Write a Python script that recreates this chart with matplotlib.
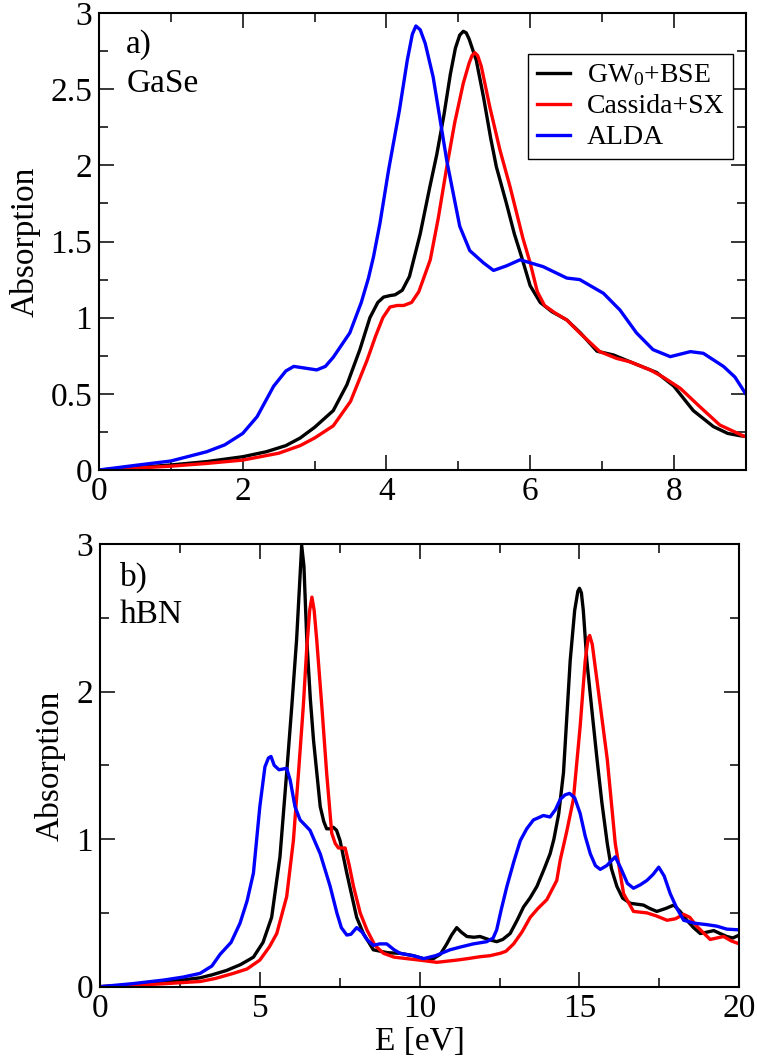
import numpy as np
import matplotlib
matplotlib.use('Agg')
import matplotlib.pyplot as plt
from matplotlib.ticker import MultipleLocator, FormatStrFormatter

plt.rcParams['font.family'] = ['Liberation Serif', 'DejaVu Serif']
plt.rcParams['mathtext.fontset'] = 'custom'
plt.rcParams['mathtext.rm'] = 'Liberation Serif'
plt.rcParams['mathtext.it'] = 'Liberation Serif:italic'

# ---- panel a) GaSe ----
e_a_bse = [0, 0.5, 1.0, 1.5, 2.0, 2.33, 2.6, 2.8, 3.0, 3.26, 3.45, 3.63, 3.77, 3.88, 3.96, 4.05, 4.12,
           4.22, 4.32, 4.47, 4.6, 4.70, 4.8, 4.89, 4.96, 5.02, 5.07, 5.11, 5.15, 5.25, 5.35, 5.45, 5.53,
           5.67, 5.78, 5.88, 6.0, 6.14, 6.3, 6.51, 6.7, 6.93, 7.16, 7.34, 7.55, 7.76, 8.0, 8.27, 8.55,
           8.75, 8.92, 9.0]
a_a_bse = [0, 0.015, 0.033, 0.055, 0.087, 0.12, 0.16, 0.21, 0.28, 0.39, 0.56, 0.79, 1.00, 1.10, 1.135,
           1.145, 1.15, 1.18, 1.27, 1.55, 1.85, 2.07, 2.33, 2.60, 2.77, 2.855, 2.88, 2.87, 2.83, 2.69,
           2.45, 2.18, 1.99, 1.75, 1.55, 1.40, 1.21, 1.10, 1.04, 0.985, 0.90, 0.78, 0.755, 0.72, 0.68,
           0.64, 0.55, 0.39, 0.285, 0.24, 0.225, 0.22]

e_a_sx = [0, 0.5, 1, 1.5, 2, 2.5, 2.8, 3.0, 3.26, 3.5, 3.73, 3.85, 3.95, 4.05, 4.15, 4.24, 4.35, 4.45,
          4.61, 4.72, 4.84, 4.95, 5.07, 5.15, 5.19, 5.23, 5.27, 5.32, 5.44, 5.58, 5.72, 5.81, 5.9, 6.0,
          6.1, 6.2, 6.35, 6.51, 6.69, 6.97, 7.2, 7.39, 7.67, 7.85, 8.09, 8.36, 8.64, 8.97, 9.0]
a_a_sx = [0, 0.012, 0.025, 0.043, 0.065, 0.11, 0.16, 0.21, 0.29, 0.45, 0.72, 0.88, 1.0, 1.07, 1.08,
          1.08, 1.10, 1.17, 1.38, 1.65, 1.99, 2.28, 2.54, 2.67, 2.72, 2.74, 2.72, 2.65, 2.38, 2.10,
          1.86, 1.69, 1.52, 1.36, 1.17, 1.08, 1.03, 0.985, 0.90, 0.777, 0.733, 0.71, 0.657, 0.61,
          0.536, 0.416, 0.295, 0.223, 0.22]

e_a_alda = [0, 0.5, 1.0, 1.5, 1.75, 2.0, 2.2, 2.43, 2.6, 2.71, 2.85, 3.03, 3.15, 3.26, 3.49, 3.65,
            3.75, 3.82, 3.91, 4.03, 4.18, 4.29, 4.36, 4.41, 4.47, 4.54, 4.65, 4.84, 5.02, 5.16, 5.35,
            5.49, 5.67, 5.86, 6.18, 6.51, 6.69, 7.02, 7.25, 7.48, 7.71, 7.95, 8.23, 8.41, 8.69, 8.85, 9.0]
a_a_alda = [0, 0.03, 0.059, 0.12, 0.165, 0.24, 0.35, 0.55, 0.65, 0.68, 0.67, 0.657, 0.68, 0.74, 0.90,
            1.10, 1.26, 1.40, 1.62, 1.97, 2.36, 2.69, 2.86, 2.915, 2.89, 2.80, 2.58, 2.03, 1.60, 1.44,
            1.36, 1.31, 1.34, 1.38, 1.335, 1.26, 1.25, 1.16, 1.05, 0.90, 0.79, 0.744, 0.777, 0.766,
            0.68, 0.61, 0.50]

# ---- panel b) hBN ----
e_b_bse = [0, 1, 2, 3.13, 3.5, 3.96, 4.4, 4.8, 5.1, 5.37, 5.63, 5.84, 6.0, 6.15, 6.25, 6.31, 6.38,
           6.47, 6.58, 6.68, 6.89, 7.0, 7.09, 7.2, 7.3, 7.4, 7.51, 7.72, 8.03, 8.24, 8.55, 9.0, 9.39,
           9.8, 10.12, 10.43, 10.65, 10.85, 11.0, 11.16, 11.3, 11.48, 11.7, 11.89, 12.15, 12.41, 12.6,
           12.83, 13.05, 13.25, 13.45, 13.67, 13.9, 14.08, 14.2, 14.35, 14.5, 14.71, 14.85, 14.95,
           15.0, 15.06, 15.12, 15.23, 15.4, 15.55, 15.7, 15.87, 16.0, 16.17, 16.35, 16.59, 17.0, 17.2,
           17.42, 17.7, 17.95, 18.15, 18.36, 18.57, 18.78, 19.0, 19.2, 19.4, 19.61, 19.8, 20.0]
a_b_bse = [0, 0.012, 0.03, 0.06, 0.08, 0.11, 0.15, 0.20, 0.30, 0.47, 0.88, 1.45, 1.90, 2.35, 2.75,
           2.99, 2.85, 2.35, 1.95, 1.67, 1.22, 1.12, 1.07, 1.07, 1.08, 1.06, 0.99, 0.77, 0.47, 0.36,
           0.25, 0.23, 0.226, 0.21, 0.19, 0.19, 0.22, 0.29, 0.35, 0.40, 0.37, 0.34, 0.335, 0.34, 0.32,
           0.305, 0.32, 0.36, 0.45, 0.54, 0.60, 0.68, 0.80, 0.90, 1.0, 1.17, 1.45, 2.21, 2.55, 2.68,
           2.70, 2.67, 2.55, 2.21, 1.85, 1.54, 1.25, 0.97, 0.80, 0.68, 0.60, 0.565, 0.553, 0.53, 0.51,
           0.53, 0.553, 0.51, 0.45, 0.40, 0.36, 0.37, 0.38, 0.36, 0.34, 0.33, 0.35]

e_b_sx = [0, 1, 2, 3.13, 3.6, 4.17, 4.6, 5.0, 5.3, 5.53, 5.84, 6.05, 6.21, 6.36, 6.47, 6.56, 6.63,
          6.7, 6.78, 6.94, 7.09, 7.25, 7.36, 7.46, 7.56, 7.67, 7.8, 7.93, 8.14, 8.35, 8.6, 8.87, 9.2,
          9.6, 10.0, 10.54, 11.16, 11.5, 11.89, 12.2, 12.52, 12.7, 12.94, 13.2, 13.46, 13.7, 13.98,
          14.29, 14.4, 14.6, 14.81, 15.02, 15.18, 15.27, 15.32, 15.4, 15.6, 15.87, 16.12, 16.38, 16.69,
          17.11, 17.4, 17.74, 18.0, 18.26, 18.45, 18.67, 18.9, 19.09, 19.3, 19.51, 19.75, 20.0]
a_b_sx = [0, 0.008, 0.02, 0.035, 0.055, 0.09, 0.12, 0.18, 0.27, 0.36, 0.61, 0.99, 1.45, 1.90, 2.30,
          2.55, 2.64, 2.55, 2.35, 1.90, 1.45, 1.04, 0.97, 0.94, 0.94, 0.94, 0.82, 0.68, 0.50, 0.385,
          0.28, 0.226, 0.20, 0.19, 0.18, 0.165, 0.18, 0.19, 0.203, 0.21, 0.226, 0.24, 0.29, 0.37,
          0.47, 0.53, 0.59, 0.72, 0.86, 1.05, 1.27, 1.76, 2.21, 2.36, 2.38, 2.32, 1.99, 1.54, 0.97,
          0.63, 0.51, 0.50, 0.48, 0.45, 0.46, 0.49, 0.47, 0.41, 0.36, 0.32, 0.33, 0.34, 0.31, 0.29]

e_b_alda = [0, 1, 2, 2.6, 3.13, 3.5, 3.76, 4.1, 4.38, 4.6, 4.8, 5.0, 5.16, 5.27, 5.35, 5.45, 5.6,
            5.84, 5.95, 6.1, 6.26, 6.57, 6.89, 7.2, 7.41, 7.55, 7.72, 7.85, 8.03, 8.2, 8.35, 8.55,
            8.75, 8.97, 9.2, 9.39, 9.8, 10.12, 10.5, 10.95, 11.3, 11.68, 12.1, 12.3, 12.41, 12.55,
            12.73, 12.95, 13.15, 13.35, 13.56, 13.77, 13.87, 14.08, 14.25, 14.4, 14.55, 14.69, 14.85,
            15.02, 15.18, 15.34, 15.5, 15.65, 15.85, 16.12, 16.3, 16.5, 16.69, 16.9, 17.11, 17.3,
            17.48, 17.65, 17.84, 18.05, 18.26, 18.6, 19.0, 19.3, 19.61, 20.0]
a_b_alda = [0, 0.02, 0.045, 0.065, 0.09, 0.14, 0.22, 0.30, 0.43, 0.58, 0.77, 1.22, 1.49, 1.55, 1.56,
            1.50, 1.47, 1.48, 1.40, 1.22, 1.13, 1.06, 0.90, 0.68, 0.50, 0.40, 0.35, 0.355, 0.40, 0.37,
            0.32, 0.28, 0.29, 0.29, 0.25, 0.226, 0.21, 0.19, 0.21, 0.25, 0.27, 0.29, 0.305, 0.33,
            0.385, 0.52, 0.68, 0.85, 0.99, 1.07, 1.13, 1.15, 1.16, 1.15, 1.20, 1.27, 1.30, 1.31, 1.28,
            1.175, 1.02, 0.90, 0.82, 0.795, 0.82, 0.88, 0.80, 0.70, 0.667, 0.69, 0.72, 0.76, 0.81,
            0.75, 0.63, 0.53, 0.45, 0.43, 0.42, 0.41, 0.39, 0.385]

labels = ['GW$_0$+BSE', 'Cassida+SX', 'ALDA']
colors = ['black', 'red', 'blue']
lw = 2.4

fig = plt.figure(figsize=(7.57, 10.59), dpi=100)
ax1 = fig.add_axes([0.1308, 0.5562, 0.8543, 0.4315])
ax2 = fig.add_axes([0.1321, 0.0683, 0.8445, 0.4180])

ax1.plot(e_a_bse, a_a_bse, color=colors[0], lw=lw, label=labels[0])
ax1.plot(e_a_sx, a_a_sx, color=colors[1], lw=lw, label=labels[1])
ax1.plot(e_a_alda, a_a_alda, color=colors[2], lw=lw, label=labels[2])

ax2.plot(e_b_bse, a_b_bse, color=colors[0], lw=lw)
ax2.plot(e_b_sx, a_b_sx, color=colors[1], lw=lw)
ax2.plot(e_b_alda, a_b_alda, color=colors[2], lw=lw)

ax1.set_xlim(0, 9)
ax1.set_ylim(0, 3)
ax1.xaxis.set_major_locator(MultipleLocator(2))
ax1.xaxis.set_minor_locator(MultipleLocator(1))
ax1.yaxis.set_major_locator(MultipleLocator(0.5))
ax1.yaxis.set_minor_locator(MultipleLocator(0.25))

ax2.set_xlim(0, 20)
ax2.set_ylim(0, 3)
ax2.xaxis.set_major_locator(MultipleLocator(5))
ax2.xaxis.set_minor_locator(MultipleLocator(2.5))
ax2.yaxis.set_major_locator(MultipleLocator(1))
ax2.yaxis.set_minor_locator(MultipleLocator(0.5))

for ax in (ax1, ax2):
    ax.xaxis.set_major_formatter(FormatStrFormatter('%g'))
    ax.yaxis.set_major_formatter(FormatStrFormatter('%g'))
    ax.tick_params(which='both', direction='in', top=True, right=True, labelsize=24, width=1.1)
    ax.tick_params(which='major', length=11, pad=5)
    ax.tick_params(which='minor', length=6.5)
    for s in ax.spines.values():
        s.set_linewidth(1.5)
    ax.set_ylabel('Absorption', fontsize=24)

ax1.yaxis.set_label_coords(-0.090, 0.5)
ax2.yaxis.set_label_coords(-0.053, 0.5)
ax2.set_xlabel('E [eV]', fontsize=24, labelpad=2)

ax1.text(0.042, 0.9125, 'a)', transform=ax1.transAxes, fontsize=24, va='baseline')
ax1.text(0.042, 0.828, 'GaSe', transform=ax1.transAxes, fontsize=24, va='baseline')
ax2.text(0.031, 0.905, 'b)', transform=ax2.transAxes, fontsize=24, va='baseline')
ax2.text(0.031, 0.822, 'hBN', transform=ax2.transAxes, fontsize=24, va='baseline')

leg = ax1.legend(loc='upper right', bbox_to_anchor=(0.980, 0.910), borderaxespad=0,
                 fontsize=20, handlelength=1.2, handletextpad=0.6, labelspacing=0.2,
                 borderpad=0.3, fancybox=False, framealpha=1, edgecolor='black')
leg.get_frame().set_linewidth(1.0)

fig.savefig('out.png', dpi=100)
